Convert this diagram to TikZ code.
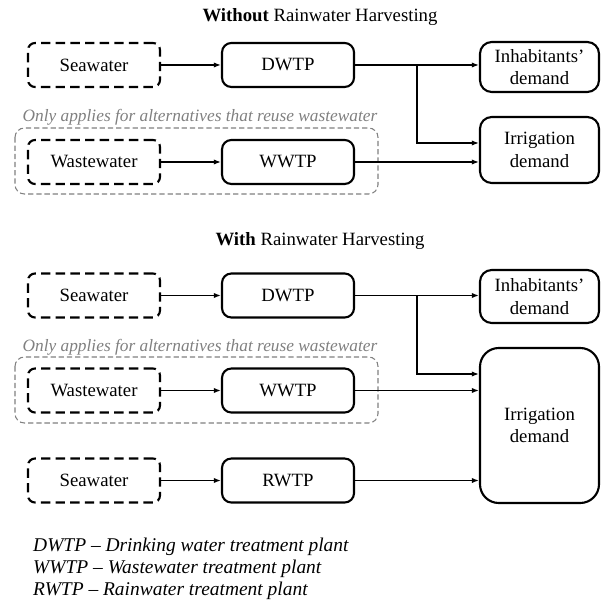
\documentclass[tikz,border=0pt]{standalone}
\usepackage{fontspec}
\setmainfont{Liberation Serif}
\usetikzlibrary{arrows.meta, positioning, calc}
\definecolor{grouptext}{RGB}{128, 128, 128}
\tikzset{
  srcbox/.style={draw, line width=1.8pt, dash pattern=on 8pt off 4.5pt, rounded corners=6pt, minimum width=3.96cm, minimum height=1.32cm, align=center},
  plantbox/.style={draw, line width=1.8pt, rounded corners=8pt, minimum width=3.96cm, minimum height=1.32cm, align=center},
  demandbox/.style={draw, line width=1.8pt, rounded corners=10pt, minimum width=3.57cm, align=center, inner sep=2pt},
  groupbox/.style={draw=grouptext, line width=0.9pt, dash pattern=on 4.5pt off 2.5pt, rounded corners=8pt},
  flow/.style={-{Latex[length=6pt, width=4.5pt]}, line width=1.6pt},
  title/.style={font=\fontsize{16}{19}\selectfont}
}
\begin{document}
\begin{tikzpicture}[x=0.03cm, y=-0.03cm, font=\fontsize{16}{19}\selectfont]
  \useasboundingbox (0,0) rectangle (601,601);

  % Without rainwater harvesting
  \node[title] (t1) at (320,17) {\textbf{Without} Rainwater Harvesting};
  \node[srcbox] (sea1) at (94,65) {Seawater};
  \node[plantbox] (dwtp1) at (288,65) {DWTP};
  \node[demandbox, minimum height=1.5cm] (inh1) at (539.5,67) {Inhabitants'\\demand};
  \node[demandbox, minimum height=1.98cm] (irr1) at (539.5,150) {Irrigation\\demand};
  \node[text=grouptext, font=\fontsize{14.8}{18}\selectfont\itshape] (note1) at (200,117) {Only applies for alternatives that reuse wastewater};
  \draw[groupbox] (15,128) rectangle (378,194);
  \node[srcbox] (ww1) at (94,162) {Wastewater};
  \node[plantbox] (wwtp1) at (288,162) {WWTP};

  \coordinate (j1) at (417,65);
  \draw[flow] (sea1) -- (dwtp1);
  \draw[flow] (dwtp1.east) -- (dwtp1.east -| inh1.west);
  \draw[flow] (j1) |- ([yshift=0.21cm]irr1.west);
  \draw[flow] (ww1) -- (wwtp1);
  \draw[flow] (wwtp1.east) -- (wwtp1.east -| irr1.west);

  % With rainwater harvesting
  \node[title] (t2) at (320,241) {\textbf{With} Rainwater Harvesting};
  \node[srcbox] (sea2) at (94,295.5) {Seawater};
  \node[plantbox] (dwtp2) at (288,295.5) {DWTP};
  \node[demandbox, minimum height=1.59cm] (inh2) at (539.5,296.5) {Inhabitants'\\demand};
  \node[demandbox, minimum height=4.65cm, rounded corners=16pt] (irr2) at (539.5,425.5) {Irrigation\\demand};
  \node[text=grouptext, font=\fontsize{14.8}{18}\selectfont\itshape] (note2) at (200,347) {Only applies for alternatives that reuse wastewater};
  \draw[groupbox] (15,357) rectangle (378,423);
  \node[srcbox] (ww2) at (94,390.5) {Wastewater};
  \node[plantbox] (wwtp2) at (288,390.5) {WWTP};
  \node[srcbox] (sea3) at (94,480.5) {Seawater};
  \node[plantbox] (rwtp) at (288,480.5) {RWTP};

  \coordinate (j2) at (417,295.5);
  \draw[flow] (sea2) -- (dwtp2);
  \draw[flow] (dwtp2.east) -- (dwtp2.east -| inh2.west);
  \draw[flow] (j2) |- ([yshift=1.545cm]irr2.west);
  \draw[flow] (ww2) -- (wwtp2);
  \draw[flow] (wwtp2.east) -- (wwtp2.east -| irr2.west);
  \draw[flow] (sea3) -- (rwtp);
  \draw[flow] (rwtp.east) -- (rwtp.east -| irr2.west);

  % Legend
  \node[anchor=north west, align=left, inner sep=0pt, font=\fontsize{16.6}{18.7}\selectfont\itshape] (legend) at (33,538) {DWTP -- Drinking water treatment plant\\WWTP -- Wastewater treatment plant\\RWTP -- Rainwater treatment plant};
\end{tikzpicture}
\end{document}
